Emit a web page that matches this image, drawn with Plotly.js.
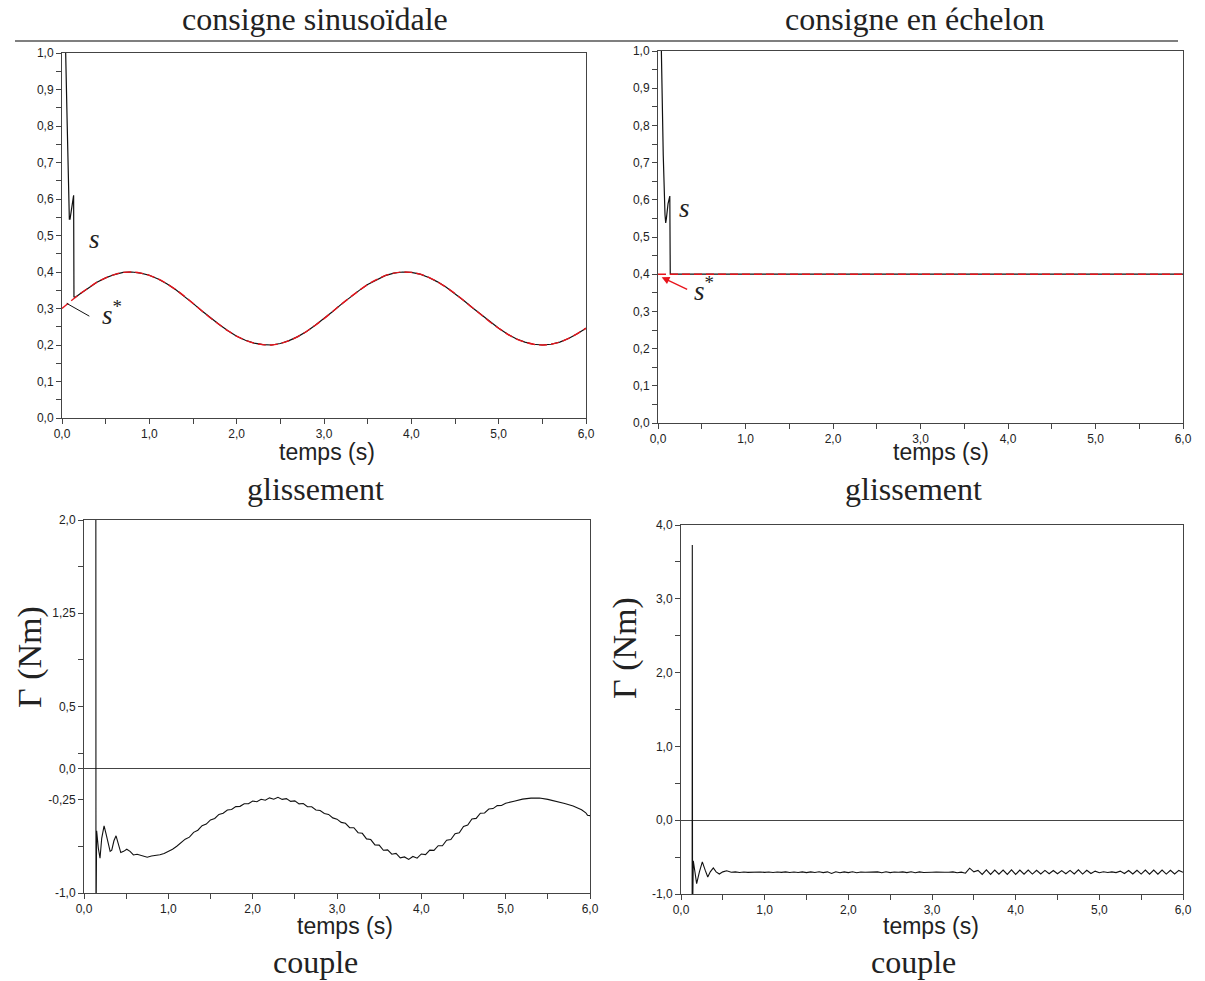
<!DOCTYPE html>
<html><head><meta charset="utf-8">
<script src="https://cdn.plot.ly/plotly-3.0.1.min.js"></script>
<style>html,body{margin:0;padding:0;background:#fff;}#chart{width:1205px;height:981px;}</style>
</head><body><div id="chart"></div>
<script>
// ---------- DATA ----------
// time axis ticks
const timeTickVals = [0,1,2,3,4,5,6];
const timeTickText = ['0,0','1,0','2,0','3,0','4,0','5,0','6,0'];
const timeMinor = [0.5,1.5,2.5,3.5,4.5,5.5];
// slip axis ticks
const slipTickVals = [0,0.1,0.2,0.3,0.4,0.5,0.6,0.7,0.8,0.9,1.0];
const slipTickText = ['0,0','0,1','0,2','0,3','0,4','0,5','0,6','0,7','0,8','0,9','1,0'];
const slipMinor = [0.05,0.15,0.25,0.35,0.45,0.55,0.65,0.75,0.85,0.95];
// torque axis ticks (sinusoidal case)
const torque1TickVals = [-1.0,-0.25,0.0,0.5,1.25,2.0];
const torque1TickText = ['-1,0','-0,25','0,0','0,5','1,25','2,0'];
const torque1Minor = [-0.625,0.125,0.875,1.625];
// torque axis ticks (step case)
const torque2TickVals = [-1,0,1,2,3,4];
const torque2TickText = ['-1,0','0,0','1,0','2,0','3,0','4,0'];
const torque2Minor = [-0.5,0.5,1.5,2.5,3.5];

// sinusoidal reference s*
const sinRefT = [0,0.1,0.2,0.3,0.4,0.5,0.6,0.7,0.8,0.9,1.0,1.1,1.2,1.3,1.4,1.5,1.6,1.7,1.8,1.9,2.0,2.1,2.2,2.3,2.4,2.5,2.6,2.7,2.8,2.9,3.0,3.1,3.2,3.3,3.4,3.5,3.6,3.7,3.8,3.9,4.0,4.1,4.2,4.3,4.4,4.5,4.6,4.7,4.8,4.9,5.0,5.1,5.2,5.3,5.4,5.5,5.6,5.7,5.8,5.9,6.0];
const sinRef = [0.300,0.320,0.339,0.356,0.372,0.384,0.393,0.399,0.400,0.397,0.391,0.381,0.368,0.352,0.334,0.314,0.294,0.274,0.256,0.239,0.224,0.213,0.205,0.201,0.200,0.204,0.212,0.223,0.237,0.254,0.272,0.292,0.312,0.331,0.349,0.366,0.379,0.390,0.397,0.400,0.399,0.394,0.385,0.373,0.358,0.341,0.322,0.302,0.283,0.263,0.246,0.230,0.217,0.208,0.202,0.200,0.202,0.208,0.218,0.231,0.246];
// sinusoidal case: measured slip s (start transient, then the tracked curve from t=0.2)
const sinSlipStartT = [0,0.03,0.042,0.06,0.075,0.084,0.092,0.105,0.12,0.133,0.137,0.15];
const sinSlipStart = [1.6,1.13,1.0,0.80,0.62,0.545,0.545,0.57,0.595,0.61,0.332,0.330];

// step case
const stepRefT = [0,6];
const stepRef = [0.4,0.4];
const stepSlipT = [0,0.02,0.034,0.06,0.08,0.088,0.096,0.115,0.135,0.14,6.0];
const stepSlip = [1.5,1.2,1.0,0.72,0.56,0.538,0.55,0.59,0.61,0.40,0.40];

// torque, sinusoidal case
const torque1T = [0.14,0.142,0.15,0.17,0.19,0.21,0.238,0.26,0.289,0.31,0.329,0.355,0.38,0.41,0.436,0.47,0.507,0.546,0.586,0.63,0.665,0.70,0.75,0.80,0.85,0.90,0.95,1.00,1.05,1.10,1.15,
1.20,1.25,1.30,1.35,1.40,1.45,1.50,1.55,1.60,1.65,1.70,1.75,1.80,1.85,1.90,1.95,2.00,2.05,2.10,2.15,2.20,2.25,2.30,2.35,2.40,2.45,2.50,2.55,2.60,2.65,2.70,2.75,2.80,2.85,2.90,2.95,
3.00,3.05,3.10,3.15,3.20,3.25,3.30,3.35,3.40,3.45,3.50,3.55,3.60,3.65,3.70,3.75,3.80,3.85,3.90,3.95,4.00,4.05,4.10,4.15,4.20,4.25,4.30,4.35,4.40,4.45,4.50,4.55,4.60,4.65,4.70,4.75,4.80,4.85,4.90,4.95,5.00,
5.10,5.20,5.30,5.40,5.50,5.60,5.70,5.80,5.90,5.95,5.97,6.00];
const torque1 = [3.0,-1.3,-0.50,-0.64,-0.72,-0.56,-0.46,-0.52,-0.62,-0.665,-0.655,-0.58,-0.54,-0.62,-0.675,-0.665,-0.648,-0.665,-0.694,-0.688,-0.695,-0.705,-0.712,-0.703,-0.700,-0.693,-0.682,-0.665,-0.648,-0.624,-0.598,
-0.567,-0.551,-0.512,-0.495,-0.459,-0.446,-0.412,-0.400,-0.368,-0.358,-0.332,-0.328,-0.305,-0.303,-0.282,-0.282,-0.260,-0.266,-0.246,-0.254,-0.235,-0.246,-0.230,-0.247,-0.241,-0.263,-0.259,-0.283,-0.280,-0.306,-0.306,-0.332,-0.336,-0.361,-0.368,-0.396,
-0.406,-0.432,-0.439,-0.474,-0.475,-0.515,-0.520,-0.565,-0.570,-0.613,-0.615,-0.656,-0.653,-0.688,-0.682,-0.717,-0.710,-0.730,-0.706,-0.720,-0.686,-0.691,-0.655,-0.657,-0.620,-0.620,-0.575,-0.570,-0.523,-0.515,-0.465,-0.454,-0.405,-0.400,-0.358,-0.356,-0.325,-0.321,-0.297,-0.296,-0.278,
-0.262,-0.245,-0.237,-0.236,-0.247,-0.262,-0.280,-0.300,-0.330,-0.355,-0.374,-0.378];

// torque, step case
const torque2T = [0.133,0.135,0.138,0.147,0.165,0.187,0.22,0.255,0.29,0.32,0.35,0.386,0.42,0.458,0.50,0.546,0.60,
0.65,0.70,0.75,0.80,0.85,0.90,0.95,1.00,1.05,1.10,1.15,1.20,1.25,1.30,1.35,1.40,1.45,1.50,1.55,1.60,1.65,1.70,1.75,1.80,1.85,1.90,1.95,2.00,2.05,2.10,2.15,2.20,2.25,2.30,2.35,2.40,2.45,2.50,2.55,2.60,2.65,2.70,2.75,2.80,2.85,2.90,2.95,3.00,3.05,3.10,3.15,3.20,3.25,3.30,3.35,3.40,
3.45,3.50,3.55,3.60,3.65,3.70,3.75,3.80,3.85,3.90,3.95,4.00,4.05,4.10,4.15,4.20,4.25,4.30,4.35,4.40,4.45,4.50,4.55,4.60,4.65,4.70,4.75,4.80,4.85,4.90,4.95,5.00,5.05,5.10,5.15,5.20,5.25,5.30,5.35,5.40,5.45,5.50,5.55,5.60,5.65,5.70,5.75,5.80,5.85,5.90,5.95,6.00];
const torque2 = [-1.3,3.73,-1.3,-0.55,-0.72,-0.86,-0.70,-0.565,-0.68,-0.77,-0.70,-0.646,-0.70,-0.73,-0.70,-0.686,-0.705,
-0.700,-0.708,-0.702,-0.707,-0.703,-0.706,-0.702,-0.707,-0.701,-0.708,-0.702,-0.707,-0.700,-0.709,-0.701,-0.708,-0.700,-0.710,-0.700,-0.709,-0.698,-0.710,-0.700,-0.722,-0.698,-0.712,-0.700,-0.710,-0.699,-0.712,-0.702,-0.706,-0.703,-0.707,-0.700,-0.712,-0.698,-0.710,-0.702,-0.706,-0.700,-0.710,-0.698,-0.712,-0.700,-0.708,-0.703,-0.705,-0.704,-0.708,-0.706,-0.705,-0.700,-0.712,-0.704,-0.718,
-0.650,-0.700,-0.680,-0.735,-0.672,-0.735,-0.675,-0.732,-0.675,-0.735,-0.672,-0.735,-0.675,-0.732,-0.676,-0.730,-0.678,-0.728,-0.680,-0.726,-0.682,-0.725,-0.683,-0.726,-0.680,-0.728,-0.672,-0.730,-0.678,-0.722,-0.690,-0.712,-0.698,-0.708,-0.700,-0.710,-0.690,-0.722,-0.682,-0.728,-0.678,-0.730,-0.676,-0.732,-0.675,-0.732,-0.676,-0.730,-0.678,-0.728,-0.680,-0.705];

// ---------- BUILD ----------
const W = 1205, H = 981;
const px = (x) => x / W;
const py = (y) => 1 - y / H;

// measured slip in sinusoidal case = start transient + tracked part from t >= 0.2
const sinSlipT = sinSlipStartT.concat(sinRefT.filter(t => t >= 0.2));
const sinSlip = sinSlipStart.concat(sinRef.filter((v, i) => sinRefT[i] >= 0.2));

const LINE = '#444';
function axis(domain, anchor, range, vals, text, minor, zero) {
  return {
    domain: domain, anchor: anchor, range: range, fixedrange: true,
    showline: true, mirror: true, linecolor: LINE, linewidth: 1,
    showgrid: false, zeroline: !!zero, zerolinecolor: LINE, zerolinewidth: 1,
    ticks: 'outside', ticklen: 5, tickwidth: 1, tickcolor: LINE,
    tickmode: 'array', tickvals: vals, ticktext: text,
    minor: {tickmode: 'array', tickvals: minor, ticks: 'outside', ticklen: 5, tickwidth: 1, tickcolor: LINE, showgrid: false},
    tickfont: {family: 'Liberation Sans, Arial, sans-serif', size: 12, color: '#222'}
  };
}

const black = {color: '#111', width: 1.2};
const redDash = {color: '#e8141c', width: 1.4, dash: '8px,4px'};

const data = [
  {x: sinSlipT, y: sinSlip, xaxis: 'x', yaxis: 'y', mode: 'lines', line: black, hoverinfo: 'skip'},
  {x: sinRefT, y: sinRef, xaxis: 'x', yaxis: 'y', mode: 'lines', line: Object.assign({shape: 'spline'}, redDash), hoverinfo: 'skip'},
  {x: stepSlipT, y: stepSlip, xaxis: 'x2', yaxis: 'y2', mode: 'lines', line: black, hoverinfo: 'skip'},
  {x: stepRefT, y: stepRef, xaxis: 'x2', yaxis: 'y2', mode: 'lines', line: redDash, hoverinfo: 'skip'},
  {x: torque1T, y: torque1, xaxis: 'x3', yaxis: 'y3', mode: 'lines', line: {color: '#111', width: 1.1}, hoverinfo: 'skip'},
  {x: torque2T, y: torque2, xaxis: 'x4', yaxis: 'y4', mode: 'lines', line: {color: '#111', width: 1.1}, hoverinfo: 'skip'}
];

const serif = 'Liberation Serif, Times New Roman, serif';
const sans = 'Liberation Sans, Arial, sans-serif';
function txt(text, x, y, size, family, extra) {
  return Object.assign({text: text, x: px(x), y: py(y), xref: 'paper', yref: 'paper',
    xanchor: 'center', yanchor: 'middle', showarrow: false,
    font: {family: family, size: size, color: '#222'}}, extra || {});
}

const annotations = [
  txt('consigne sinusoïdale', 315, 19, 32, serif),
  txt('consigne en échelon', 914, 19, 32, serif),
  txt('glissement', 315, 489, 32, serif),
  txt('glissement', 913, 489, 32, serif),
  txt('couple', 315, 962, 32, serif),
  txt('couple', 913, 962, 32, serif),
  txt('temps (s)', 327, 452, 23, sans),
  txt('temps (s)', 941, 452, 23, sans),
  txt('temps (s)', 345, 926, 23, sans),
  txt('temps (s)', 931, 926, 23, sans),
  txt('Γ (Nm)', 30, 657, 34, serif, {textangle: -90}),
  txt('Γ (Nm)', 625, 648, 34, serif, {textangle: -90}),
  txt('<i>s</i>', 94, 239, 27, serif),
  txt('<i>s</i><sup>*</sup>', 112, 313, 27, serif),
  txt('<i>s</i>', 684, 208, 27, serif),
  txt('<i>s</i><sup>*</sup>', 704, 289, 27, serif),
  {x: 0.042, y: 0.392, xref: 'x2', yref: 'y2', text: '', showarrow: true,
   arrowhead: 2, arrowsize: 1.2, arrowwidth: 1.3, arrowcolor: '#e8141c',
   ax: 27, ay: 13}
];

const shapes = [
  {type: 'line', xref: 'paper', yref: 'paper', x0: px(15), x1: px(1178), y0: py(41), y1: py(41),
   line: {color: '#555', width: 1.5}},
  {type: 'line', xref: 'x', yref: 'y', x0: 0.054, y0: 0.314, x1: 0.313, y1: 0.279,
   line: {color: '#111', width: 1}}
];

const layout = {
  width: W, height: H, margin: {l: 0, r: 0, t: 0, b: 0},
  paper_bgcolor: '#fff', plot_bgcolor: '#fff', showlegend: false,
  xaxis: axis([px(62), px(586)], 'y', [0, 6], timeTickVals, timeTickText, timeMinor),
  yaxis: axis([py(418), py(53)], 'x', [0, 1], slipTickVals, slipTickText, slipMinor),
  xaxis2: axis([px(658), px(1183)], 'y2', [0, 6], timeTickVals, timeTickText, timeMinor),
  yaxis2: axis([py(423), py(51)], 'x2', [0, 1], slipTickVals, slipTickText, slipMinor),
  xaxis3: axis([px(84), px(590)], 'y3', [0, 6], timeTickVals, timeTickText, timeMinor),
  yaxis3: axis([py(893), py(520)], 'x3', [-1, 2], torque1TickVals, torque1TickText, torque1Minor, true),
  xaxis4: axis([px(681), px(1183)], 'y4', [0, 6], timeTickVals, timeTickText, timeMinor),
  yaxis4: axis([py(894), py(525)], 'x4', [-1, 4], torque2TickVals, torque2TickText, torque2Minor, true),
  annotations: annotations,
  shapes: shapes
};

Plotly.newPlot('chart', data, layout, {displayModeBar: false, staticPlot: true});
</script>
</body></html>
